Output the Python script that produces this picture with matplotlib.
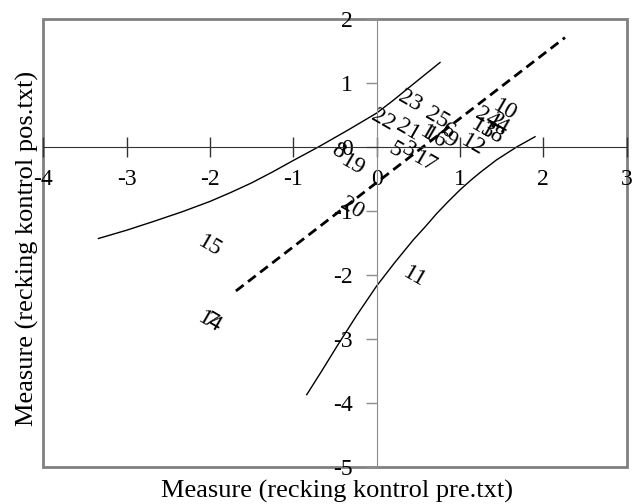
import matplotlib
matplotlib.use("Agg")
import matplotlib.pyplot as plt
from matplotlib.patches import Rectangle

plt.rcParams['font.family'] = ['Liberation Serif', 'DejaVu Serif']

# item measures (pre, post)
items = ['1', '2', '3', '4', '5', '6', '7', '8', '9', '10', '11', '12', '13',
         '14', '15', '16', '17', '18', '19', '20', '21', '22', '23', '24', '25']
pre = [0.60, 1.44, 0.38, 1.50, 0.22, 0.85, -2.00, -0.46, 0.88, 1.54, 0.46, 1.16, 1.28,
       -2.00, -2.00, 0.70, 0.58, 1.38, -0.28, -0.30, 0.38, 0.08, 0.40, 1.32, 0.72]
post = [0.22, 0.40, -0.05, 0.32, -0.05, 0.25, -2.72, -0.07, 0.11, 0.58, -2.03, 0.03, 0.28,
        -2.74, -1.55, 0.14, -0.23, 0.20, -0.28, -0.96, 0.27, 0.42, 0.71, 0.45, 0.45]

# identity line and confidence bands
ident_x = [-1.69, 2.26]
ident_y = [-2.25, 1.71]
upper_x = [-3.34, -3.0, -2.67, -2.33, -2.0, -1.75, -1.5, -1.25, -1.0, -0.70, -0.35,
           0.0, 0.20, 0.36, 0.56, 0.76]
upper_y = [-1.43, -1.30, -1.16, -1.01, -0.85, -0.71, -0.56, -0.39, -0.21, 0.0, 0.26,
           0.53, 0.73, 0.90, 1.11, 1.32]
lower_x = [-0.84, -0.66, -0.48, -0.24, 0.0, 0.22, 0.44, 0.58, 0.72, 0.86, 1.0, 1.12,
           1.24, 1.34, 1.44, 1.56, 1.68, 1.79, 1.90]
lower_y = [-3.87, -3.50, -3.12, -2.63, -2.17, -1.80, -1.45, -1.25, -1.04, -0.85, -0.67,
           -0.53, -0.40, -0.30, -0.20, -0.10, 0.0, 0.08, 0.16]

xticks = [-4, -3, -2, -1, 0, 1, 2, 3]
yticks = [-5, -4, -3, -2, -1, 0, 1, 2]

fig = plt.figure(figsize=(6.39, 5.04), dpi=100)
ax = fig.add_axes([0.068, 0.0734, 0.9127, 0.889])

ax.plot(upper_x, upper_y, color='black', lw=1)
ax.plot(lower_x, lower_y, color='black', lw=1)
ax.plot(ident_x, ident_y, color='black', lw=2, dashes=(3.5, 2))

for lab, x, y in zip(items, pre, post):
    ax.text(x, y, lab, rotation=-30, ha='center', va='center', fontsize=17,
            rotation_mode='anchor')

ax.set_xlim(-4, 3)
ax.set_ylim(-5, 2)

ax.spines['left'].set_position(('data', 0))
ax.spines['bottom'].set_position(('data', 0))
ax.spines['left'].set_color('#8c8c8c')
ax.spines['bottom'].set_color('#333333')
ax.spines['top'].set_visible(False)
ax.spines['right'].set_visible(False)

# outer frame
ax.add_patch(Rectangle((0, 0), 1, 1, transform=ax.transAxes, fill=False,
                       edgecolor='#808080', lw=2, clip_on=False))

ax.set_xticks(xticks)
ax.set_yticks(yticks)
ax.set_xticklabels([str(t) for t in xticks])
ax.set_yticklabels([str(t) for t in yticks])
ax.tick_params(axis='x', direction='inout', length=14, width=1, color='#333333',
               pad=9, labelsize=17)
ax.tick_params(axis='y', direction='out', length=8, width=1, color='#8c8c8c',
               pad=9, labelsize=17)

fig.text(0.527, 0.024, 'Measure (recking kontrol pre.txt)', ha='center', va='center',
         fontsize=19)
fig.text(0.043, 0.508, 'Measure (recking kontrol pos.txt)', ha='center', va='center',
         rotation=90, fontsize=19)

fig.savefig('out.png', dpi=100)
